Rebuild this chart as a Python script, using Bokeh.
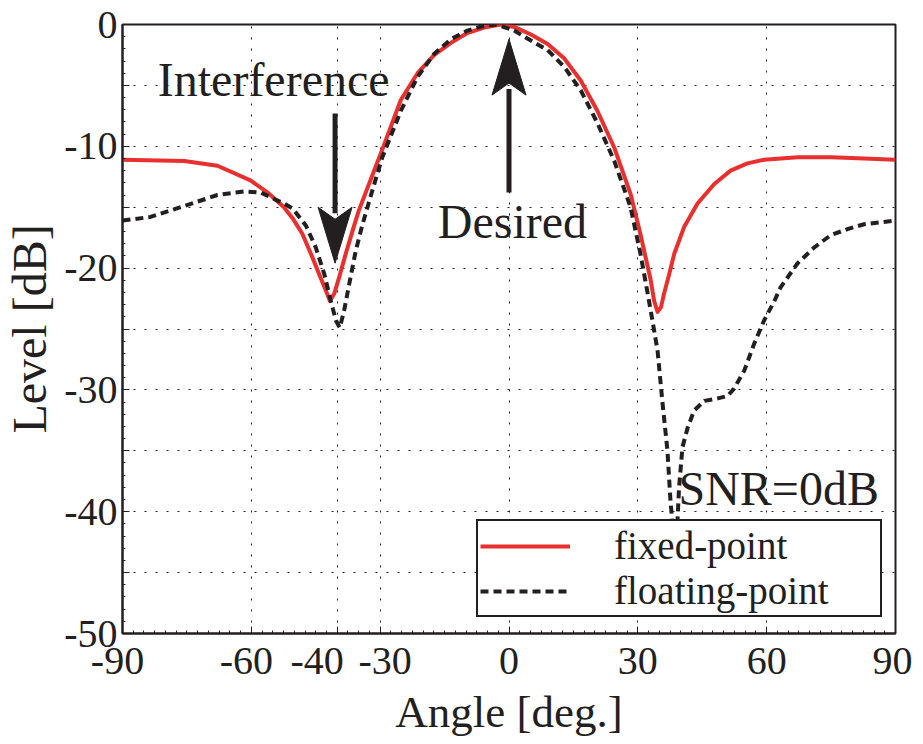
import numpy as np
from bokeh.plotting import figure
from bokeh.models import Range1d, FixedTicker, Legend, LegendItem
from bokeh.core.properties import value
from bokeh.embed import file_html
from bokeh.resources import INLINE

# ---------------- data ----------------
angle_fixed = [-90, -75.6, -67.9, -60.2, -56.2, -52.4, -50.4, -48.1, -45.8, -44.2, -42.7, -41.7,
               -40.7, -39.5, -38.0, -36.4, -35.0, -32.6, -30.2, -29.1, -25.2, -21.3, -17.4, -13.5,
               -9.7, -5.8, -2.0, 1.2, 5.0, 9.0, 12.9, 16.7, 20.6, 24.5, 28.3, 30.6, 33.0, 33.8,
               34.6, 35.4, 36.1, 37.3, 38.5, 40.8, 43.9, 47.8, 51.6, 55.5, 59.4, 67.2, 75.0, 82.7, 90]
level_fixed = [-11.1, -11.2, -11.6, -12.8, -13.8, -15.0, -15.9, -17.2, -19.1, -20.5, -21.8, -22.7,
               -22.1, -20.7, -18.8, -16.9, -15.3, -13.1, -10.9, -9.9, -6.2, -4.0, -2.5, -1.5,
               -0.7, -0.25, 0.0, -0.2, -0.8, -1.6, -2.8, -4.6, -7.1, -10.1, -13.9, -17.2, -21.0, -22.7,
               -23.6, -23.2, -22.1, -20.5, -18.8, -16.6, -14.7, -13.1, -12.0, -11.4, -11.1, -10.9, -10.9, -11.0, -11.1]

angle_float = [-90, -83.5, -75.6, -67.9, -61.7, -57.8, -52.4, -50.4, -47.3, -45.0, -43.0, -41.5,
               -40.3, -39.4, -38.4, -37.2, -35.7, -34.1, -31.8, -29.5, -25.2, -21.3, -17.4, -13.5,
               -9.7, -5.8, -3.0, 1.2, 5.0, 9.0, 12.9, 16.7, 20.6, 24.5, 28.3, 30.6, 32.3, 33.4,
               34.6, 35.7, 36.9, 37.6, 38.8, 39.6, 40.4, 41.6, 43.1, 45.5, 48.6, 50.9, 52.4, 54.8,
               57.1, 59.4, 61.8, 63.2, 67.2, 71.1, 74.9, 78.8, 82.7, 90]
level_float = [-16.1, -15.8, -14.9, -14.0, -13.7, -13.8, -14.7, -15.1, -16.5, -18.3, -20.5, -22.7,
               -24.3, -24.9, -23.5, -21.3, -18.6, -16.4, -13.6, -10.9, -7.1, -4.3, -2.4, -1.2,
               -0.5, -0.1, 0.0, -0.5, -1.3, -2.1, -3.5, -5.4, -8.1, -11.2, -15.0, -18.8, -22.1, -24.3,
               -26.8, -30.9, -35.0, -39.1, -44.0, -38.0, -34.7, -33.1, -31.7, -30.9, -30.7, -30.5, -29.9, -28.4,
               -26.2, -24.3, -22.7, -21.6, -19.6, -18.3, -17.3, -16.8, -16.4, -16.1]

x_ticks = [-90, -60, -40, -30, 0, 30, 60, 90]
# tick label texts (padded with no-break spaces where the reference nudges them)
x_tick_labels = ["-90\u00a0", "-60\u00a0", "-40\u00a0\u00a0\u00a0\u00a0", "\u00a0-30", "0", "30", "60", "90"]
y_ticks = [0, -5, -10, -15, -20, -25, -30, -35, -40, -45, -50]
y_tick_labels = ["0", "", "-10", "", "-20", "", "-30", "", "-40", "", "-50"]

# annotations: (angle, level from, level to)
interf_arrow = (-40.5, -7.3, -19.6)
desired_arrow = (0.0, -13.8, -1.2)
texts = ["Interference", "Desired", "SNR=0dB"]
text_x = [-54.8, 0.8, 62.8]
text_y = [-4.5, -16.2, -38.1]   # vertical centres of the texts

# ---------------- styling ----------------
FONT = "Liberation Serif"
INK = "#231f20"
RED = "#e8302f"

X0, X1, Y0, Y1 = -90, 90, -50, 0
FRAME_W, FRAME_H = 773, 609

p = figure(width=907, height=736, output_backend="svg", toolbar_location=None,
           x_range=Range1d(X0, X1), y_range=Range1d(Y0, Y1),
           min_border_left=117, min_border_right=17, min_border_top=24, min_border_bottom=103)
p.frame_width = FRAME_W
p.frame_height = FRAME_H

p.outline_line_color = INK
p.outline_line_width = 2
p.outline_line_alpha = 1
p.background_fill_color = "white"
p.border_fill_color = "white"

for ax in (p.xaxis[0], p.yaxis[0]):
    ax.axis_line_color = INK
    ax.axis_line_width = 2
    ax.major_tick_in = 7
    ax.major_tick_out = 0
    ax.major_tick_line_color = INK
    ax.major_tick_line_width = 1
    ax.minor_tick_in = 3
    ax.minor_tick_out = 0
    ax.minor_tick_line_color = INK
    ax.major_label_text_font = FONT
    ax.major_label_text_font_size = "40px"
    ax.major_label_text_color = INK
    ax.axis_label_text_font = FONT
    ax.axis_label_text_font_style = "normal"
    ax.axis_label_text_color = INK

p.xaxis.ticker = FixedTicker(ticks=x_ticks, minor_ticks=list(np.arange(-90, 90.1, 2.5)))
p.yaxis.ticker = FixedTicker(ticks=y_ticks, minor_ticks=list(range(-50, 1)))
p.xaxis.major_label_overrides = dict(zip(x_ticks, x_tick_labels))
p.yaxis.major_label_overrides = dict(zip(y_ticks, y_tick_labels))
p.xaxis.axis_label = "Angle [deg.]"
p.yaxis.axis_label = "Level [dB]"
p.xaxis.axis_label_text_font_size = "45px"
p.yaxis.axis_label_text_font_size = "48px"
p.xaxis.major_label_standoff = 4
p.yaxis.major_label_standoff = 5
p.xaxis.axis_label_standoff = 1
p.yaxis.axis_label_standoff = 5

p.xgrid.ticker = FixedTicker(ticks=x_ticks[1:-1])
p.ygrid.ticker = FixedTicker(ticks=y_ticks[1:-1])
for g in (p.xgrid[0], p.ygrid[0]):
    g.grid_line_color = INK
    g.grid_line_width = 1
    g.grid_line_dash = "2 9"
    g.grid_line_alpha = 1

# ---------------- curves ----------------
r_fixed = p.line(angle_fixed, level_fixed, line_color=RED, line_width=4, line_join="round")
r_float = p.line(angle_float, level_float, line_color=INK, line_width=4, line_dash="8 5",
                 line_join="round")

# ---------------- arrows ----------------
px_x = (X1 - X0) / FRAME_W   # data units per pixel
px_y = (Y1 - Y0) / FRAME_H

def arrow(ax, y_from, y_to):
    d = 1 if y_to > y_from else -1
    head_len, half_w, notch = 56 * px_y, 17 * px_x, 12 * px_y
    back = y_to - d * head_len
    p.line([ax, ax], [y_from, back + d * notch * 0.5], line_color=INK, line_width=5)
    p.patch([ax, ax - half_w, ax, ax + half_w],
            [y_to, back, back + d * notch, back],
            fill_color=INK, line_color=INK, line_width=1)

arrow(*interf_arrow)
arrow(*desired_arrow)

p.text(x=text_x, y=text_y, text=texts, text_font=value(FONT), text_font_size="48px",
       text_color=INK, text_align="center", text_baseline="middle")

# ---------------- legend ----------------
legend = Legend(items=[LegendItem(label="fixed-point", renderers=[r_fixed]),
                       LegendItem(label="floating-point", renderers=[r_float])],
                location=(354, 16))
legend.label_text_font = FONT
legend.label_text_font_size = "39px"
legend.label_text_color = INK
legend.border_line_color = INK
legend.border_line_width = 2
legend.border_line_alpha = 1
legend.background_fill_color = "white"
legend.background_fill_alpha = 1
legend.padding = 2
legend.spacing = 0
legend.margin = 0
legend.glyph_width = 90
legend.glyph_height = 30
legend.label_standoff = 44
legend.label_width = 264
legend.label_height = 30
p.add_layout(legend, "center")

open("out.html", "w").write(file_html(p, INLINE))
